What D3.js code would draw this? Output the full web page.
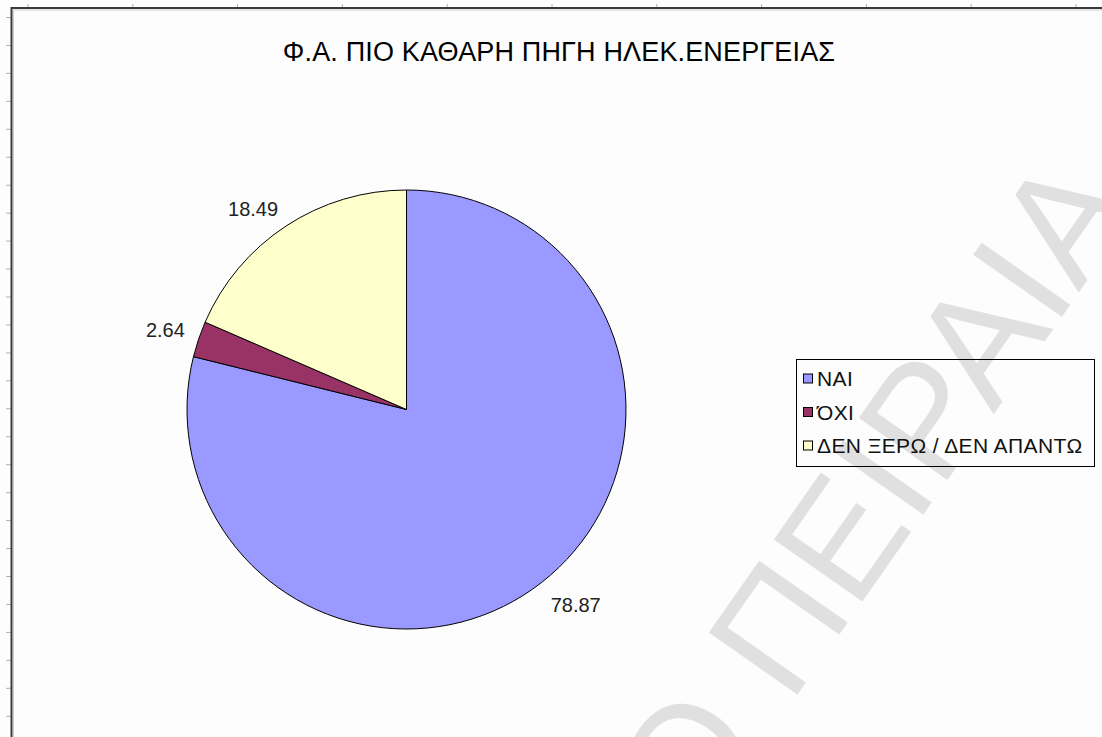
<!DOCTYPE html>
<html>
<head>
<meta charset="utf-8">
<script src="https://cdn.jsdelivr.net/npm/d3@7"></script>
<style>
  body { margin: 0; background: #fdfdfd; }
  svg { display: block; }
  text { font-family: "Liberation Sans", Arial, sans-serif; }
</style>
</head>
<body>
<svg id="chart" width="1102" height="737"></svg>
<script>
// Survey answers: share of respondents (%)
const categories = ["ΝΑΙ", "ΌΧΙ", "ΔΕΝ ΞΕΡΩ / ΔΕΝ ΑΠΑΝΤΩ"];
const values = [78.87, 2.64, 18.49];
const sliceColors = ["#9999FF", "#993366", "#FFFFCC"];
const chartTitle = "Φ.Α. ΠΙΟ ΚΑΘΑΡΗ ΠΗΓΗ ΗΛΕΚ.ΕΝΕΡΓΕΙΑΣ";
const watermarkHead = "ΠΑΝΕΠΙΣΤΗΜΙΟ";
const watermarkTail = "ΠΕΙΡΑΙΑ";

const W = 1102, H = 737;
const svg = d3.select("#chart");

svg.append("rect").attr("width", W).attr("height", H).attr("fill", "#fdfdfd");

// Faint diagonal watermark behind the chart
const wm = svg.append("g")
  .attr("transform", "translate(790,705) rotate(-55)")
  .attr("fill", "#e0e0e0")
  .style("font-size", "157px");
wm.append("text").attr("x", -44).attr("text-anchor", "end").text(watermarkHead);
wm.append("text").attr("x", 0).attr("text-anchor", "start").text(watermarkTail);

// Sheet frame with its ruler ticks
const frameX = 11.5, frameY = 8;
const topTicks = d3.range(28, W, 104.8);
const leftTicks = d3.range(17.5, H, 27.95);
svg.append("g").selectAll("line").data(topTicks).join("line")
  .attr("x1", d => d).attr("x2", d => d)
  .attr("y1", 4).attr("y2", frameY)
  .attr("stroke", "#b0b0b0").attr("stroke-width", 1);
svg.append("g").selectAll("line").data(leftTicks).join("line")
  .attr("x1", 6).attr("x2", frameX)
  .attr("y1", d => d).attr("y2", d => d)
  .attr("stroke", "#b0b0b0").attr("stroke-width", 1);
svg.append("path")
  .attr("d", `M${frameX},${H} V${frameY} H${W}`)
  .attr("fill", "none").attr("stroke", "#3a3a3a").attr("stroke-width", 2);
svg.append("path")
  .attr("d", `M${frameX + 2},${H} V${frameY + 2} H${W}`)
  .attr("fill", "none").attr("stroke", "#cfcfcf").attr("stroke-width", 1);

// Title
svg.append("text")
  .attr("x", 559).attr("y", 61)
  .attr("text-anchor", "middle")
  .style("font-size", "27px")
  .style("letter-spacing", "0.15px")
  .attr("fill", "#000")
  .text(chartTitle);

// Pie
const cx = 406.5, cy = 409.5, R = 219.5;
const pie = d3.pie().sort(null).value(d => d)(values);
const arc = d3.arc().innerRadius(0).outerRadius(R);
const g = svg.append("g").attr("transform", `translate(${cx},${cy})`);

g.selectAll("path").data(pie).join("path")
  .attr("d", arc)
  .attr("fill", (d, i) => sliceColors[i])
  .attr("stroke", "#000")
  .attr("stroke-width", 1)
  .attr("stroke-linejoin", "round");

// Value labels just outside each slice
const labelR = 234, labelH = 16;
g.selectAll("text.val").data(pie).join("text")
  .attr("class", "val")
  .style("font-size", "20px")
  .attr("fill", "#222")
  .attr("text-anchor", "middle")
  .attr("dominant-baseline", "central")
  .text(d => d.data.toFixed(2))
  .each(function (d) {
    const a = (d.startAngle + d.endAngle) / 2;
    const ux = Math.sin(a), uy = -Math.cos(a);
    const w = this.getComputedTextLength();
    d3.select(this)
      .attr("x", labelR * ux + Math.sign(ux) * w / 2)
      .attr("y", labelR * uy + Math.sign(uy) * labelH / 2 + 3);
  });

// Legend
const lg = svg.append("g");
lg.append("rect")
  .attr("x", 796.5).attr("y", 359.5)
  .attr("width", 298).attr("height", 107)
  .attr("fill", "none").attr("stroke", "#000").attr("stroke-width", 1);
const rowY = i => 378.5 + i * 33.5;
const items = lg.selectAll("g.item").data(categories).join("g").attr("class", "item");
items.append("rect")
  .attr("x", 803.5).attr("y", (d, i) => rowY(i) - 4.5)
  .attr("width", 9).attr("height", 9)
  .attr("fill", (d, i) => sliceColors[i])
  .attr("stroke", "#000").attr("stroke-width", 1);
items.append("text")
  .attr("x", 817).attr("y", (d, i) => rowY(i))
  .attr("dominant-baseline", "central")
  .style("font-size", "21px")
  .style("letter-spacing", "0.4px")
  .attr("fill", "#111")
  .text(d => d);
</script>
</body>
</html>
